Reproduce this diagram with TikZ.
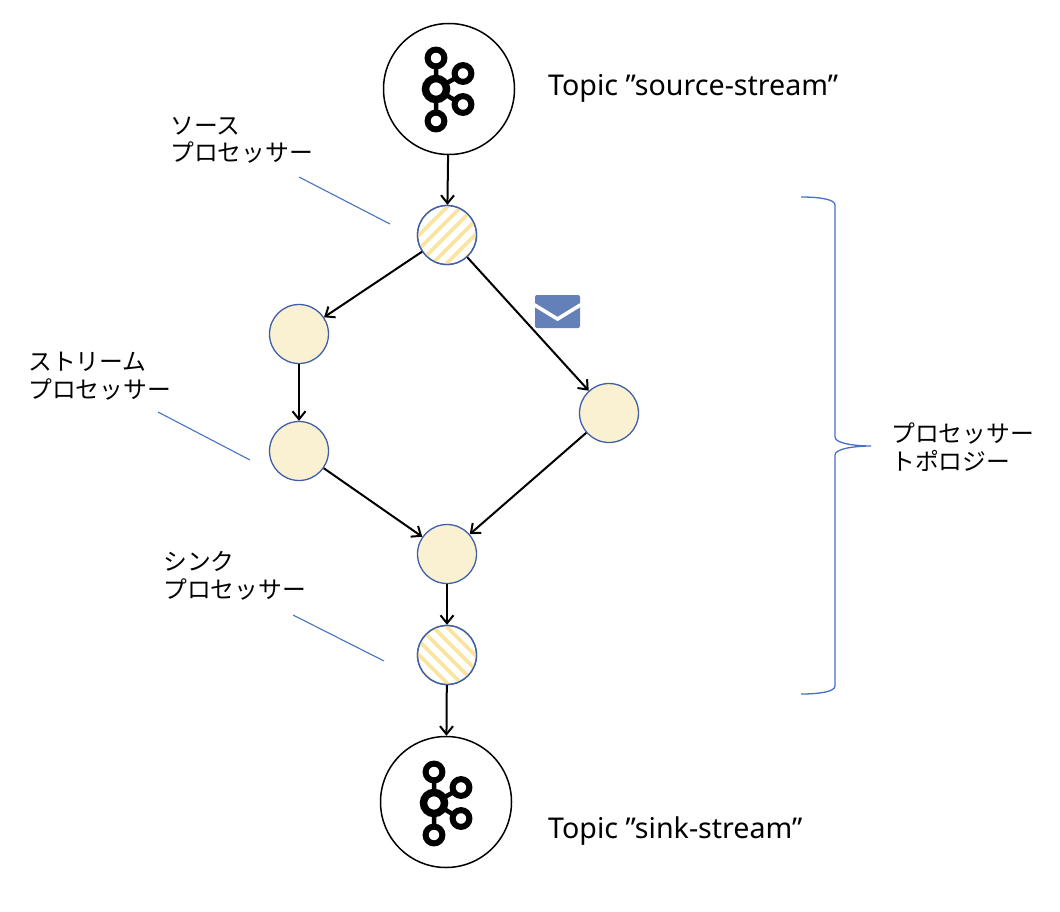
\documentclass[tikz,border=0pt]{standalone}
\usepackage{fontspec}
\setmainfont{Noto Sans}
\newfontfamily\jp{Noto Sans CJK JP}
\definecolor{nodefill}{HTML}{FAF0D2}
\definecolor{hatch}{HTML}{FBE3A0}
\definecolor{rim}{HTML}{3F5FA8}
\definecolor{leader}{HTML}{4472C4}
\definecolor{mail}{HTML}{6480B8}
\usetikzlibrary{arrows.meta}
\tikzset{
  topic/.style={circle,draw=black,line width=1.5pt,minimum size=131pt,inner sep=0pt,fill=white},
  proc/.style={circle,draw=rim,line width=1.3pt,minimum size=59pt,inner sep=0pt,fill=nodefill},
  hatched/.style={circle,draw=rim,line width=1.3pt,minimum size=59pt,inner sep=0pt},
  flow/.style={-{Straight Barb[length=8pt,width=13pt,line width=2pt]},line width=2pt,black},
  lead/.style={leader,line width=1.1pt},
  jplabel/.style={anchor=west,align=left,font=\jp\fontsize{23.8}{27.6}\selectfont,inner sep=0pt},
  title/.style={anchor=west,font=\fontsize{28.6}{34}\selectfont,inner sep=0pt},
  ring/.style={draw=black,line width=6pt,fill=white},
  spoke/.style={draw=black,line width=4.5pt},
  kafka/.pic={
    \draw[spoke] (0,0) -- (0,-31) (0,0) -- (0,31) (0,0) -- (27,-15) (0,0) -- (27,16);
    \draw[ring] (0,-31) circle (8.4pt);
    \draw[ring] (0,32) circle (8.4pt);
    \draw[ring] (27,-15.5) circle (8.4pt);
    \draw[ring] (27,15.5) circle (8.4pt);
    \draw[draw=black,line width=7.5pt,fill=white] (0,0) circle (10.5pt);
  }
}
\begin{document}
\begin{tikzpicture}[x=1pt,y=-1pt]
\useasboundingbox (0,0) rectangle (1060,912);
\node[topic] (src) at (449,89) {};
\pic at (436,89) {kafka};
\node[topic] (snk) at (446,802) {};
\pic at (434,803) {kafka};

\node[hatched] (so) at (447,235) {};
\begin{scope}
\clip (447,235) circle (29pt);
\foreach \d in {-42,-35,...,42}
  \draw[hatch,line width=3.6pt] (447-40+\d,235+40+\d) -- (447+40+\d,235-40+\d);
\end{scope}
\node[hatched] at (447,235) {};
\node[proc] (a) at (299,334) {};
\node[proc] (b) at (299,451) {};
\node[proc] (c) at (609,413) {};
\node[proc] (d) at (447,554) {};
\node[hatched] (si) at (447,655) {};
\begin{scope}
\clip (447,655) circle (29pt);
\foreach \d in {-42,-35,...,42}
  \draw[hatch,line width=3.6pt] (447-40+\d,655-40-\d) -- (447+40+\d,655+40-\d);
\end{scope}
\node[hatched] at (447,655) {};

\draw[flow] (src) -- (so);
\draw[flow] (so) -- (a);
\draw[flow] (so) -- (c);
\draw[flow] (a) -- (b);
\draw[flow] (b) -- (d);
\draw[flow] (c) -- (d);
\draw[flow] (d) -- (si);
\draw[flow] (si) -- (snk);

\coordinate (l1a) at (299,177); \coordinate (l1b) at (390,224);
\coordinate (l2a) at (158,412); \coordinate (l2b) at (250,460);
\coordinate (l3a) at (293,615); \coordinate (l3b) at (384,661);
\draw[lead] (l1a) -- (l1b);
\draw[lead] (l2a) -- (l2b);
\draw[lead] (l3a) -- (l3b);

\draw[leader,line width=1.3pt] (801,197) .. controls (818,197) and (835,199) .. (835,205)
  -- (835,437) .. controls (835,444) and (858,446) .. (871,446)
  .. controls (858,446) and (835,448) .. (835,455)
  -- (835,686) .. controls (835,692) and (818,694) .. (801,694);

\fill[mail,rounded corners=2pt] (535,295) rectangle (580,328);
\draw[white,line width=3.6pt] (533,304) -- (557.5,319) -- (582,304);

\node[title] (t1) at (548,88) {Topic ”source-stream”};
\node[title] (t2) at (548,831) {Topic ”sink-stream”};
\node[jplabel] (j1) at (170,140) {ソース\\プロセッサー};
\node[jplabel] (j2) at (28,376) {ストリーム\\プロセッサー};
\node[jplabel] (j3) at (163,576) {シンク\\プロセッサー};
\node[jplabel] (j4) at (891,447) {プロセッサー\\トポロジー};
\end{tikzpicture}
\end{document}
